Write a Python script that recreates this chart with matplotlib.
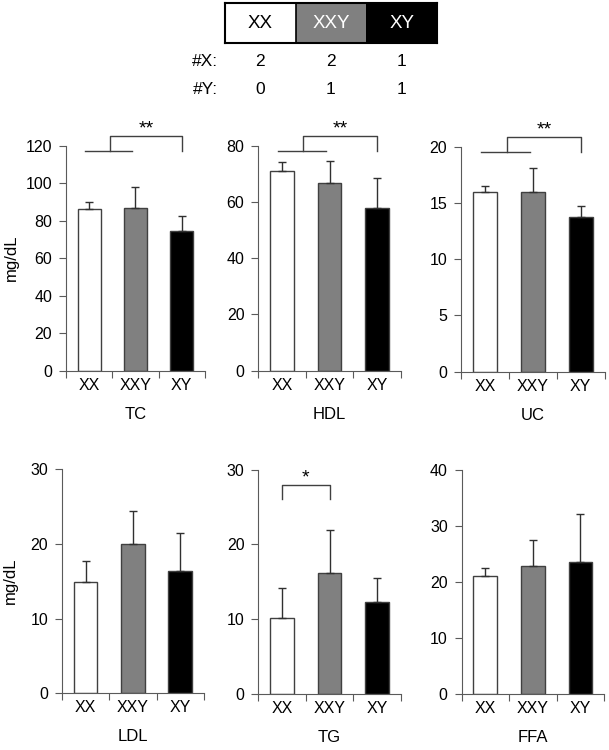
import numpy as np
import matplotlib
matplotlib.use('Agg')
import matplotlib.pyplot as plt

plt.rcParams['font.family'] = ['Liberation Sans', 'DejaVu Sans']

groups = ['XX', 'XXY', 'XY']
colors = ['white', '#808080', 'black']
n_x = ['2', '2', '1']
n_y = ['0', '1', '1']

tc_mean = [86.0, 87.0, 74.3]
tc_err = [4.0, 10.8, 8.0]
hdl_mean = [70.9, 66.9, 58.0]
hdl_err = [3.3, 7.5, 10.4]
uc_mean = [16.0, 16.0, 13.75]
uc_err = [0.5, 2.1, 1.0]
ldl_mean = [14.9, 20.0, 16.3]
ldl_err = [2.8, 4.4, 5.1]
tg_mean = [10.1, 16.2, 12.3]
tg_err = [4.1, 5.8, 3.2]
ffa_mean = [21.0, 22.9, 23.5]
ffa_err = [1.4, 4.6, 8.6]

# name, means, errors, ymax, step, axes rect (fig fraction)
panels = [
    ('TC', tc_mean, tc_err, 120, 20, [0.1084, 0.5057, 0.228, 0.300]),
    ('HDL', hdl_mean, hdl_err, 80, 20, [0.4241, 0.5057, 0.234, 0.300]),
    ('UC', uc_mean, uc_err, 20, 5, [0.757, 0.5044, 0.236, 0.300]),
    ('LDL', ldl_mean, ldl_err, 30, 10, [0.1018, 0.0756, 0.233, 0.299]),
    ('TG', tg_mean, tg_err, 30, 10, [0.4241, 0.0747, 0.234, 0.299]),
    ('FFA', ffa_mean, ffa_err, 40, 10, [0.758, 0.0747, 0.234, 0.299]),
]

spine_col = '#5a5a5a'
tick_fs = 11.5
lab_fs = 12

fig = plt.figure(figsize=(6.09, 7.5), dpi=100)

axes = {}
for name, mean, err, ymax, step, rect in panels:
    ax = fig.add_axes(rect)
    x = np.arange(len(groups))
    ax.bar(x, mean, width=0.5, color=colors, edgecolor='#404040', linewidth=1.0,
           yerr=[[0] * 3, err], capsize=3,
           error_kw=dict(ecolor='#303030', elinewidth=1.0, capthick=1.0))
    ax.set_xlim(-0.5, 2.5)
    ax.set_ylim(0, ymax)
    ax.set_yticks(np.arange(0, ymax + step / 2, step))
    ax.set_xticks([-0.5, 0.5, 1.5, 2.5])
    ax.set_xticklabels([])
    ax.set_xticks(x, minor=True)
    ax.set_xticklabels(groups, minor=True)
    ax.tick_params(axis='x', which='major', length=5, direction='out', color=spine_col)
    ax.tick_params(axis='x', which='minor', length=0, labelsize=tick_fs, pad=5)
    ax.tick_params(axis='y', length=5, direction='out', color=spine_col, labelsize=tick_fs, pad=5)
    for s in ['top', 'right']:
        ax.spines[s].set_visible(False)
    for s in ['left', 'bottom']:
        ax.spines[s].set_color(spine_col)
    ax.set_xlabel(name, fontsize=lab_fs, labelpad=10)
    axes[name] = ax

axes['TC'].set_ylabel('mg/dL', fontsize=lab_fs, labelpad=5)
axes['LDL'].set_ylabel('mg/dL', fontsize=lab_fs, labelpad=9)

# significance marks: XX+XXY vs XY
for name in ['TC', 'HDL', 'UC']:
    ax = axes[name]
    tr = ax.get_xaxis_transform()
    ax.plot([-0.08, 0.93], [0.976, 0.976], color='#404040', lw=1, transform=tr, clip_on=False)
    ax.plot([0.45, 0.45, 2.0, 2.0], [0.976, 1.043, 1.043, 0.976], color='#404040', lw=1,
            transform=tr, clip_on=False)
    ax.text(1.23, 1.035, '**', transform=tr, ha='center', va='bottom', fontsize=14)

ax = axes['TG']
tr = ax.get_xaxis_transform()
ax.plot([0.0, 0.0, 1.0, 1.0], [0.87, 0.933, 0.933, 0.87], color='#404040', lw=1,
        transform=tr, clip_on=False)
ax.text(0.5, 0.925, '*', transform=tr, ha='center', va='bottom', fontsize=14)

# top key
lax = fig.add_axes([0.3695, 0.9427, 0.348, 0.053])
lax.bar(np.arange(3), [1, 1, 1], width=1.0, color=colors, edgecolor='none')
lax.set_xlim(-0.5, 2.5)
lax.set_ylim(0, 1)
lax.set_xticks([])
lax.set_yticks([])
for s in lax.spines.values():
    s.set_linewidth(1.5)
    s.set_color('black')
lax.axvline(0.5, color='black', lw=1.2)
txt_cols = ['black', 'white', 'white']
for i, g in enumerate(groups):
    lax.text(i, 0.5, g, ha='center', va='center', fontsize=13.5, color=txt_cols[i])
    lax.text(i, -0.475, n_x[i], ha='center', va='center', fontsize=12.5, clip_on=False)
    lax.text(i, -1.175, n_y[i], ha='center', va='center', fontsize=12.5, clip_on=False)
lax.text(-0.6, -0.475, '#X:', ha='right', va='center', fontsize=12.5)
lax.text(-0.6, -1.175, '#Y:', ha='right', va='center', fontsize=12.5)

fig.savefig('out.png', dpi=100)
